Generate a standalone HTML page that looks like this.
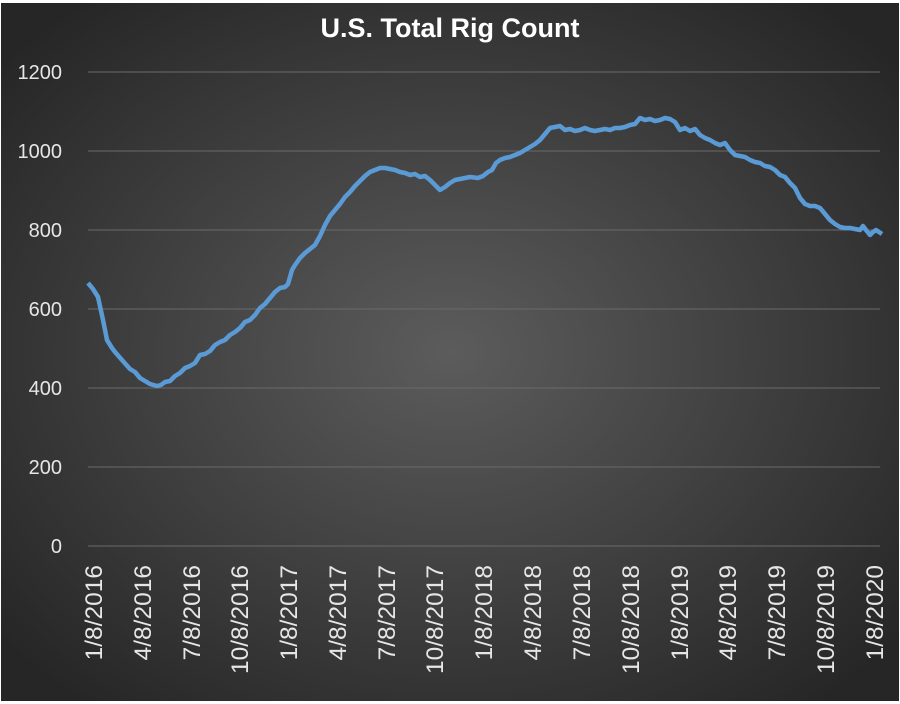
<!DOCTYPE html>
<html><head><meta charset="utf-8"><style>
html,body{margin:0;padding:0;width:900px;height:704px;overflow:hidden;background:#fff}
</style></head><body>
<svg width="900" height="704" viewBox="0 0 900 704" xmlns="http://www.w3.org/2000/svg">
<defs>
<radialGradient id="bg" cx="50%" cy="50%" r="65%">
<stop offset="0" stop-color="#5c5c5c"/>
<stop offset="1" stop-color="#262626"/>
</radialGradient>
</defs>
<rect x="1" y="3" width="898" height="698" fill="url(#bg)"/>
<text x="450" y="37" fill="#fff" font-family="Liberation Sans, sans-serif" font-weight="bold" font-size="27" text-anchor="middle">U.S. Total Rig Count</text>
<g stroke="#6a6a6a" stroke-width="1">
<line x1="88" x2="880" y1="72" y2="72"/>
<line x1="88" x2="880" y1="151" y2="151"/>
<line x1="88" x2="880" y1="230" y2="230"/>
<line x1="88" x2="880" y1="309" y2="309"/>
<line x1="88" x2="880" y1="388" y2="388"/>
<line x1="88" x2="880" y1="467" y2="467"/>
<line x1="88" x2="880" y1="546" y2="546"/>
</g>
<g fill="#e6e6e6" font-family="Liberation Sans, sans-serif" font-size="20" text-anchor="end">
<text x="62" y="79">1200</text>
<text x="62" y="158">1000</text>
<text x="62" y="237">800</text>
<text x="62" y="316">600</text>
<text x="62" y="395">400</text>
<text x="62" y="474">200</text>
<text x="62" y="553">0</text>
</g>
<g fill="#e6e6e6" font-family="Liberation Sans, sans-serif" font-size="24.5" text-anchor="end">
<text transform="translate(102,565) rotate(-90)">1/8/2016</text>
<text transform="translate(151,565) rotate(-90)">4/8/2016</text>
<text transform="translate(200,565) rotate(-90)">7/8/2016</text>
<text transform="translate(248,565) rotate(-90)">10/8/2016</text>
<text transform="translate(297,565) rotate(-90)">1/8/2017</text>
<text transform="translate(346,565) rotate(-90)">4/8/2017</text>
<text transform="translate(395,565) rotate(-90)">7/8/2017</text>
<text transform="translate(443,565) rotate(-90)">10/8/2017</text>
<text transform="translate(492,565) rotate(-90)">1/8/2018</text>
<text transform="translate(541,565) rotate(-90)">4/8/2018</text>
<text transform="translate(590,565) rotate(-90)">7/8/2018</text>
<text transform="translate(639,565) rotate(-90)">10/8/2018</text>
<text transform="translate(688,565) rotate(-90)">1/8/2019</text>
<text transform="translate(736,565) rotate(-90)">4/8/2019</text>
<text transform="translate(785,565) rotate(-90)">7/8/2019</text>
<text transform="translate(834,565) rotate(-90)">10/8/2019</text>
<text transform="translate(883,565) rotate(-90)">1/8/2020</text>
</g>
<polyline fill="none" stroke="#5b9bd5" stroke-width="4.5" stroke-linejoin="round" points="88,283 93,289 98,297 103,320 107,340 112,348 115,352 122,360 130,369 135,372 140,378 145,381 150,384 157,386 161,385 165,382 170,381 175,376 180,373 185,368 190,366 195,363 200,355 205,354 210,351 215,345 220,342 225,340 230,335 235,332 240,328 245,322 250,320 255,315 260,308 265,304 270,298 275,292 280,288 285,287 288,284 292,270 295,265 300,258 305,253 310,249 315,245 320,236 325,225 330,216 335,210 340,204 345,197 350,192 355,186 360,181 365,176 370,172 375,170 380,168 385,168 390,169 395,170 400,172 405,173 410,175 415,174 420,177 425,176 430,180 435,185 440,190 445,187 450,183 455,180 460,179 465,178 470,177 478,178 483,176 488,172 492,170 496,163 500,160 505,158 510,157 515,155 520,153 525,150 530,147 535,144 540,140 545,134 550,128 555,127 560,126 565,130 570,129 575,131 580,130 585,128 590,130 595,131 600,130 605,129 610,130 615,128 620,128 625,127 630,125 635,124 640,118 645,120 650,119 655,121 660,120 665,118 670,119 675,122 680,130 685,128 690,131 695,129 700,135 705,138 710,140 715,143 720,145 725,143 730,150 735,155 740,156 745,157 750,160 755,162 760,163 765,166 770,167 775,170 780,175 785,177 790,183 795,188 800,198 805,204 810,206 815,206 820,208 825,214 830,220 835,224 840,227 845,228 850,228 855,229 860,230 863,226 866,230 870,235 873,232 876,230 882,234"/>
</svg>
</body></html>
